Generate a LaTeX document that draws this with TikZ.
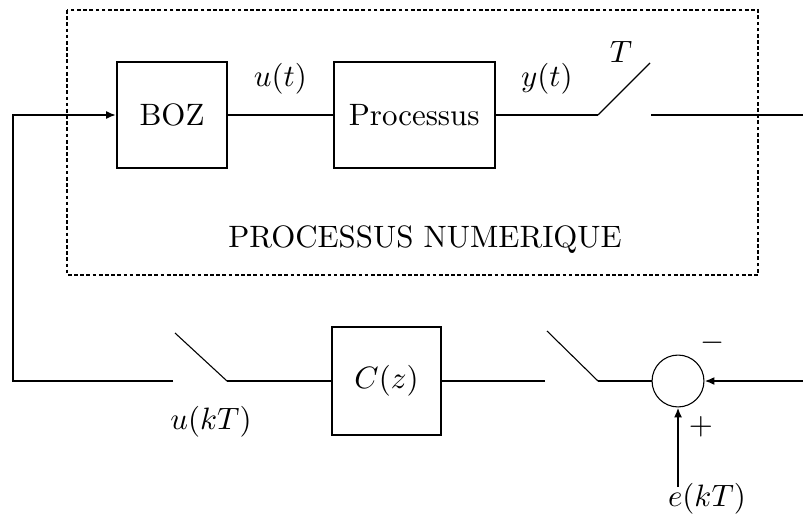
\documentclass[tikz,border=0pt]{standalone}
\usepackage{tikz}
\usetikzlibrary{arrows.meta,positioning,calc}
\tikzset{
  blk/.style={draw,line width=0.65pt,minimum width=1.25cm,minimum height=1.21cm,inner sep=0pt,align=center},
  sumnode/.style={draw,circle,line width=0.35pt,minimum size=0.59cm,inner sep=0pt},
  wire/.style={line width=0.65pt},
  bus/.style={line width=0.87pt},
  swline/.style={line width=0.35pt},
  arr/.style={-{Latex[length=3.2pt,width=2.6pt]},line width=0.87pt},
  frame/.style={line width=0.65pt,dash pattern=on 1.2pt off 0.8pt},
}

\begin{document}
\begin{tikzpicture}[x=0.011375cm,y=-0.011375cm]
      \useasboundingbox (0,0) rectangle (803,520);
      % processus numerique
      \draw[frame] (67,10) rectangle (758,275);
      \node[blk] (boz) at (172,115) {BOZ};
      \node[blk,minimum width=1.83cm,right=1.19cm of boz] (proc) {Processus};
      \node (lab) at (425,240) {PROCESSUS NUMERIQUE};
      \coordinate (swa) at (598,115); \coordinate (swb) at (650,63);
      \coordinate (swc) at (651,115); \coordinate (out) at (803,115);
      \draw[wire] (boz) -- node[above=3pt] {$u(t)$} (proc);
      \draw[wire] (proc) -- node[above=3pt] {$y(t)$} (swa);
      \draw[swline] (swa) -- (swb);
      \node at (621,52) {$T$};
      \draw[wire] (swc) -- (out);
      % boucle
      \node[blk,minimum width=1.24cm,minimum height=1.23cm] (cz) at (386.5,381) {$C(z)$};
      \node[sumnode] (sum) at (678,381) {};
      \coordinate (in) at (803,381); \coordinate (ref) at (678,487);
      \coordinate (swd) at (598,381); \coordinate (swe) at (547,331);
      \coordinate (swf) at (545,381);
      \coordinate (swg) at (227,381); \coordinate (swh) at (175,333);
      \coordinate (swi) at (173,381); \coordinate (corner) at (13,381);
      \draw[arr] (in) -- (sum.east);
      \draw[arr] (ref) -- (sum.south);
      \node at (713,343) {$-$};
      \node at (701,427) {$+$};
      \node (eref) at (707,499) {$e(kT)$};
      \draw[bus] (sum.west) -- (swd);
      \draw[swline] (swd) -- (swe);
      \draw[bus] (swf) -- (cz.east);
      \draw[bus] (cz.west) -- (swg);
      \draw[swline] (swg) -- (swh);
      \node at (211,422) {$u(kT)$};
      \draw[arr] (swi) -- (corner) |- (boz.west);
    \end{tikzpicture}
\end{document}
